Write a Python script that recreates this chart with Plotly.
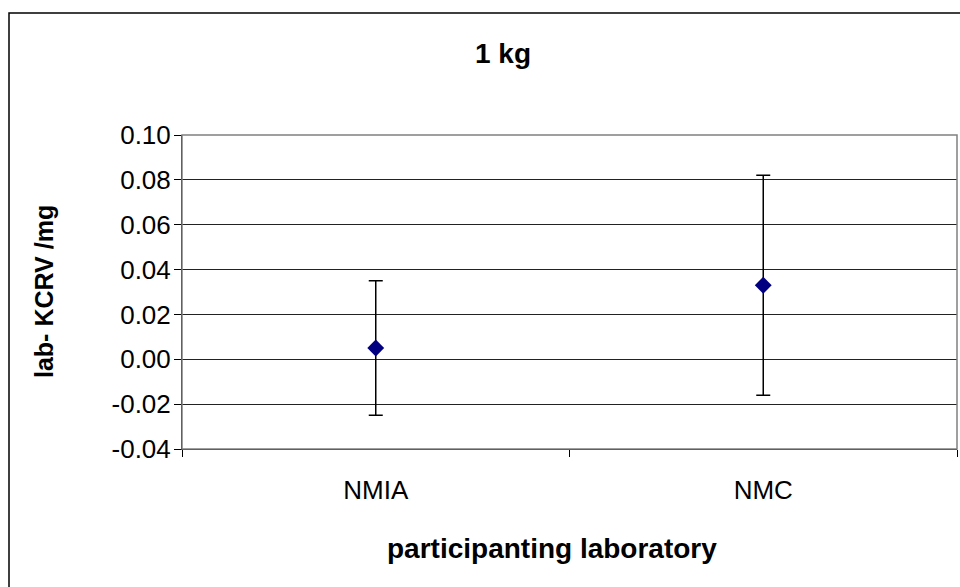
import plotly.graph_objects as go

labs = ["NMIA", "NMC"]
deviation = [0.005, 0.033]
uncertainty = [0.030, 0.049]
y_ticks = [-0.04, -0.02, 0.00, 0.02, 0.04, 0.06, 0.08, 0.10]
y_ticktext = ["-0.04", "-0.02", "0.00", "0.02", "0.04", "0.06", "0.08", "0.10"]

W, H = 960, 587
L, R, T, B = 182, 3, 135, 138
pw, ph = W - L - R, H - T - B

def px(x):
    return (x - L) / pw

def py(y):
    return (H - B - y) / ph

fig = go.Figure()
fig.add_trace(go.Scatter(
    x=labs, y=deviation, mode="markers",
    marker=dict(symbol="diamond", size=13, color="#000080"),
    error_y=dict(type="data", array=uncertainty, visible=True,
                 color="black", thickness=1.5, width=7),
    showlegend=False,
))

font = "Liberation Sans, Arial, sans-serif"
fig.update_layout(
    width=W, height=H,
    margin=dict(l=L, r=R, t=T, b=B, autoexpand=False),
    paper_bgcolor="white", plot_bgcolor="white",
    font=dict(family=font, color="black"),
    xaxis=dict(type="category", range=[-0.5, 1.5], showgrid=False,
               showline=True, linecolor="black", linewidth=1,
               ticks="outside", tickson="boundaries", ticklen=7,
               tickcolor="black", tickfont=dict(size=26),
               ticklabelstandoff=18),
    yaxis=dict(range=[-0.04, 0.10], tickvals=y_ticks, ticktext=y_ticktext,
               showgrid=True, gridcolor="#222", gridwidth=1,
               zeroline=False, showline=True, linecolor="black", linewidth=1,
               ticks="outside", ticklen=7, tickcolor="black",
               tickfont=dict(size=26), ticklabelstandoff=-2),
    shapes=[
        dict(type="rect", xref="paper", yref="paper", x0=0, x1=1, y0=0, y1=1,
             line=dict(color="#808080", width=1.5), layer="above"),
        dict(type="rect", xref="paper", yref="paper",
             x0=px(9), x1=px(975), y0=py(13), y1=py(600),
             line=dict(color="black", width=1.5)),
    ],
    annotations=[
        dict(text="<b>1 kg</b>", xref="paper", yref="paper", x=px(503), y=py(53),
             showarrow=False, font=dict(size=28), xanchor="center", yanchor="middle"),
        dict(text="<b>lab- KCRV /mg</b>", xref="paper", yref="paper", x=px(44), y=0.5,
             showarrow=False, textangle=-90, font=dict(size=25),
             xanchor="center", yanchor="middle"),
        dict(text="<b>participanting laboratory</b>", xref="paper", yref="paper",
             x=px(552), y=py(548), showarrow=False, font=dict(size=28),
             xanchor="center", yanchor="middle"),
    ],
)
fig.write_html("out.html", config={"displayModeBar": False},
               post_script="document.body.style.margin='0';document.body.style.overflow='hidden';")
